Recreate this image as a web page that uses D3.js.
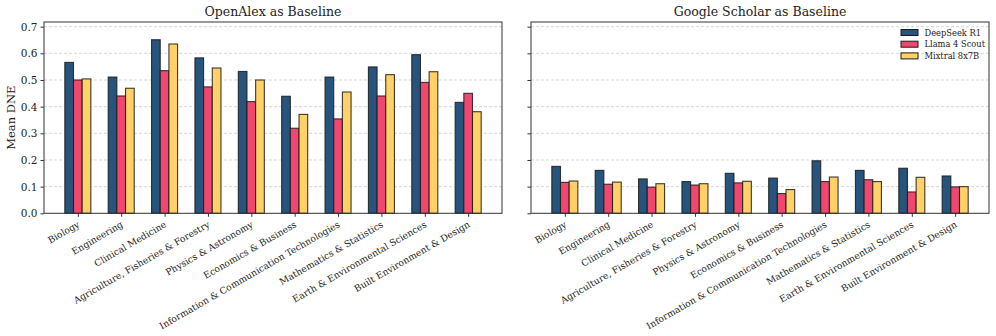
<!DOCTYPE html>
<html><head><meta charset="utf-8">
<script src="https://cdn.jsdelivr.net/npm/d3@7"></script>
<style>body{margin:0;background:#fff}svg{display:block;font-family:"DejaVu Serif",serif}</style>
</head><body><svg id="c" width="996" height="336"></svg>
<script>
const categories = ["Biology","Engineering","Clinical Medicine","Agriculture, Fisheries & Forestry","Physics & Astronomy","Economics & Business","Information & Communication Technologies","Mathematics & Statistics","Earth & Environmental Sciences","Built Environment & Design"];
const models = ["DeepSeek R1","Llama 4 Scout","Mixtral 8x7B"];
const colors = ["#26547c","#ef476f","#ffd166"];
const openalexDeepSeek = [0.566,0.511,0.651,0.583,0.532,0.439,0.511,0.549,0.595,0.416];
const openalexLlama    = [0.500,0.440,0.535,0.474,0.419,0.319,0.354,0.440,0.491,0.450];
const openalexMixtral  = [0.504,0.469,0.635,0.545,0.500,0.371,0.455,0.520,0.531,0.381];
const scholarDeepSeek  = [0.176,0.161,0.129,0.119,0.150,0.132,0.197,0.161,0.169,0.140];
const scholarLlama     = [0.116,0.109,0.098,0.106,0.114,0.074,0.119,0.126,0.080,0.099];
const scholarMixtral   = [0.121,0.117,0.111,0.111,0.120,0.089,0.136,0.119,0.135,0.100];
const yTicks = [0,0.1,0.2,0.3,0.4,0.5,0.6,0.7];
const panels = [
  {title:"OpenAlex as Baseline", series:[openalexDeepSeek,openalexLlama,openalexMixtral], left:44, right:502, ylab:true, legend:false},
  {title:"Google Scholar as Baseline", series:[scholarDeepSeek,scholarLlama,scholarMixtral], left:531, right:989, ylab:false, legend:true}
];
const svg = d3.select("#c");
const plotTop = 22, plotBottom = 213.3;
const y = d3.scaleLinear().domain([0,0.7175]).range([plotBottom, plotTop]);
const barW = 0.2;
panels.forEach(p=>{
  const x = d3.scaleLinear().domain([-0.78, 9.78]).range([p.left, p.right]);
  const g = svg.append("g");
  g.selectAll("line.grid").data(yTicks.filter(t=>t>0)).enter().append("line")
    .attr("x1",p.left).attr("x2",p.right).attr("y1",d=>y(d)).attr("y2",d=>y(d))
    .attr("stroke","#cccccc").attr("stroke-width",0.8).attr("stroke-dasharray","3,2");
  p.series.forEach((vals,si)=>{
    g.selectAll(null).data(vals).enter().append("rect")
      .attr("x",(d,i)=>x(i+(si-1)*barW-barW/2))
      .attr("width",x(barW)-x(0))
      .attr("y",d=>y(d)).attr("height",d=>y(0)-y(d))
      .attr("fill",colors[si]).attr("stroke","#1a1a1a").attr("stroke-width",1.1).attr("stroke-opacity",0.85);
  });
  g.append("rect").attr("x",p.left).attr("y",plotTop).attr("width",p.right-p.left).attr("height",plotBottom-plotTop)
    .attr("fill","none").attr("stroke","#333").attr("stroke-width",1);
  const ya = d3.axisLeft(y).tickValues(yTicks).tickSize(3.5).tickSizeOuter(0).tickFormat(p.ylab?d3.format(".1f"):"");
  const yg = g.append("g").attr("transform",`translate(${p.left},0)`).call(ya);
  yg.select(".domain").remove();
  yg.selectAll("line").attr("stroke","#333");
  yg.selectAll("text").attr("font-size",10.5).attr("fill","#222").attr("font-family","DejaVu Serif");
  const xa = d3.axisBottom(x).tickValues(d3.range(categories.length)).tickSize(3.5).tickSizeOuter(0).tickFormat(i=>categories[i]);
  const xg = g.append("g").attr("transform",`translate(0,${plotBottom})`).call(xa);
  xg.select(".domain").remove();
  xg.selectAll("line").attr("stroke","#333");
  xg.selectAll("text").attr("font-size",9.2).attr("fill","#222").attr("font-family","DejaVu Serif")
    .attr("text-anchor","end").attr("dy",0).attr("y",0)
    .attr("transform","translate(2,13) rotate(-30)");
  g.append("text").attr("x",(p.left+p.right)/2).attr("y",16).attr("text-anchor","middle")
    .attr("font-size",12.5).attr("fill","#222").text(p.title);
  if(p.ylab){
    g.append("text").attr("transform",`translate(15,${(plotTop+plotBottom)/2}) rotate(-90)`).attr("text-anchor","middle")
      .attr("font-size",11.5).attr("fill","#222").text("Mean DNE");
  }
  if(p.legend){
    const lg = g.append("g").attr("transform","translate(901,29.5)");
    models.forEach((m,i)=>{
      lg.append("rect").attr("x",0).attr("y",i*11.7).attr("width",17).attr("height",6)
        .attr("fill",colors[i]).attr("stroke","#1a1a1a").attr("stroke-width",1);
      lg.append("text").attr("x",23.5).attr("y",i*11.7+6).attr("font-size",8.3).attr("fill","#222").text(m);
    });
  }
});
</script></body></html>
